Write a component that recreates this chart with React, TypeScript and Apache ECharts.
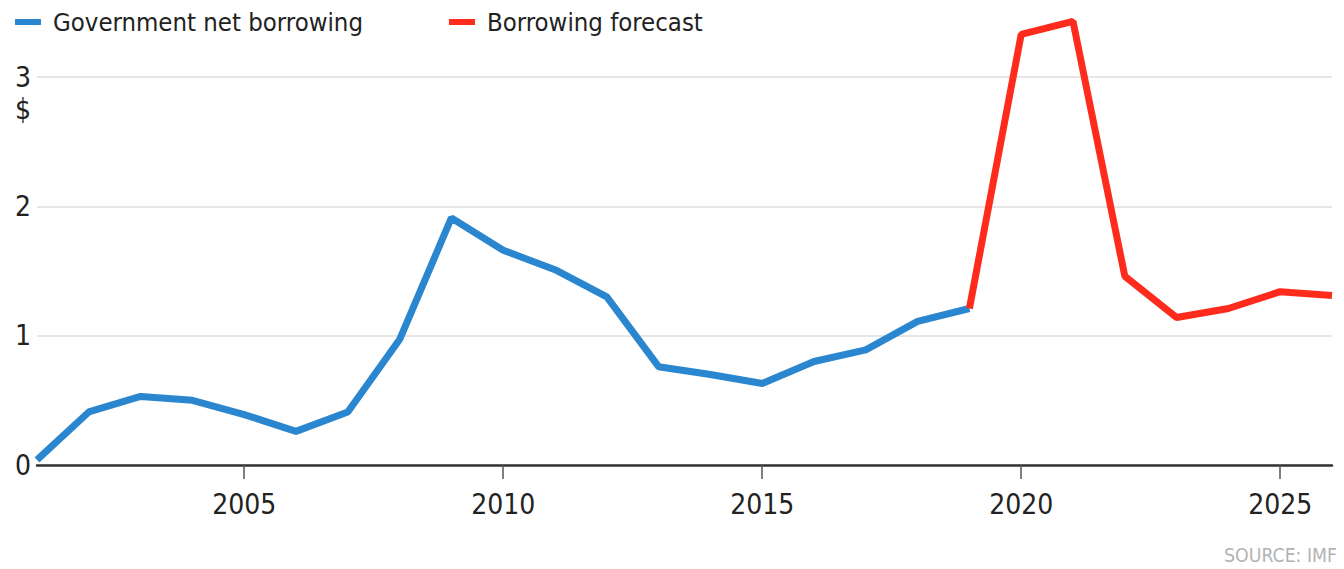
import React, { useEffect, useRef } from "react";
import * as echarts from "echarts";

const years = ["2001","2002","2003","2004","2005","2006","2007","2008","2009","2010","2011","2012","2013","2014","2015","2016","2017","2018","2019","2020","2021","2022","2023","2024","2025","2026"];
// 2001-2019 actual
const netBorrowing = [0.04,0.41,0.53,0.50,0.39,0.26,0.41,0.97,1.91,1.66,1.51,1.30,0.76,0.70,0.63,0.80,0.89,1.11,1.21];
// 2019-2026 forecast
const forecast = [1.21,3.33,3.43,1.46,1.14,1.21,1.34,1.31];
const yTicks = [0, 1, 2, 3];

const FONT = "'DejaVu Sans Condensed', 'Liberation Sans Narrow', sans-serif";

export default function App() {
  const ref = useRef<HTMLDivElement>(null);
  useEffect(() => {
    if (!ref.current) return;
    const chart = echarts.init(ref.current, null, { renderer: "svg" });
    const blue = years.map((_, i) => (i < netBorrowing.length ? netBorrowing[i] : null));
    const offset = years.length - forecast.length;
    const red = years.map((_, i) => (i >= offset ? forecast[i - offset] : null));
    chart.setOption({
      animation: false,
      backgroundColor: "#ffffff",
      legend: {
        left: 7,
        top: 1,
        padding: 0,
        itemWidth: 26,
        itemHeight: 6,
        itemGap: 86,
        icon: "rect",
        textStyle: { fontFamily: FONT, fontSize: 25.5, color: "#222", padding: [0, 0, 0, 7] },
        data: ["Government net borrowing", "Borrowing forecast"],
      },
      grid: { left: 29, right: 12, top: 69, bottom: 104, containLabel: false },
      xAxis: {
        type: "category",
        data: years,
        boundaryGap: false,
        axisLine: { lineStyle: { color: "#333", width: 2.5 } },
        axisTick: {
          interval: (i: number, v: string) => Number(v) % 5 === 0,
          length: 14,
          lineStyle: { color: "#555", width: 1.5 },
        },
        axisLabel: {
          interval: (i: number, v: string) => Number(v) % 5 === 0,
          fontFamily: FONT,
          fontSize: 28,
          color: "#222",
          margin: 25,
        },
        splitLine: { show: false },
      },
      yAxis: {
        type: "value",
        min: 0,
        max: yTicks[yTicks.length - 1],
        interval: 1,
        axisLine: { show: false },
        axisTick: { show: false },
        axisLabel: {
          fontFamily: FONT,
          fontSize: 28,
          color: "#222",
          align: "left",
          margin: 22,
        },
        splitLine: { lineStyle: { color: "#e6e6e6", width: 2 } },
      },
      graphic: [
        { type: "text", left: 7, top: 87, style: { text: "$", fontFamily: FONT, fontSize: 28, fill: "#222" } },
        { type: "text", right: 7, top: 538, style: { text: "SOURCE: IMF", fontFamily: FONT, fontSize: 19.3, fill: "#b3b3b3" } },
      ],
      series: [
        {
          name: "Government net borrowing",
          type: "line",
          data: blue,
          clip: false,
          symbol: "none",
          color: "#2a86cf",
          lineStyle: { width: 7, color: "#2a86cf" },
          z: 2,
        },
        {
          name: "Borrowing forecast",
          type: "line",
          data: red,
          clip: false,
          symbol: "none",
          color: "#ff2b1c",
          lineStyle: { width: 7, color: "#ff2b1c" },
          z: 3,
        },
      ],
    });
    return () => chart.dispose();
  }, []);
  return <div ref={ref} style={{ width: 1336, height: 561 }} />;
}
